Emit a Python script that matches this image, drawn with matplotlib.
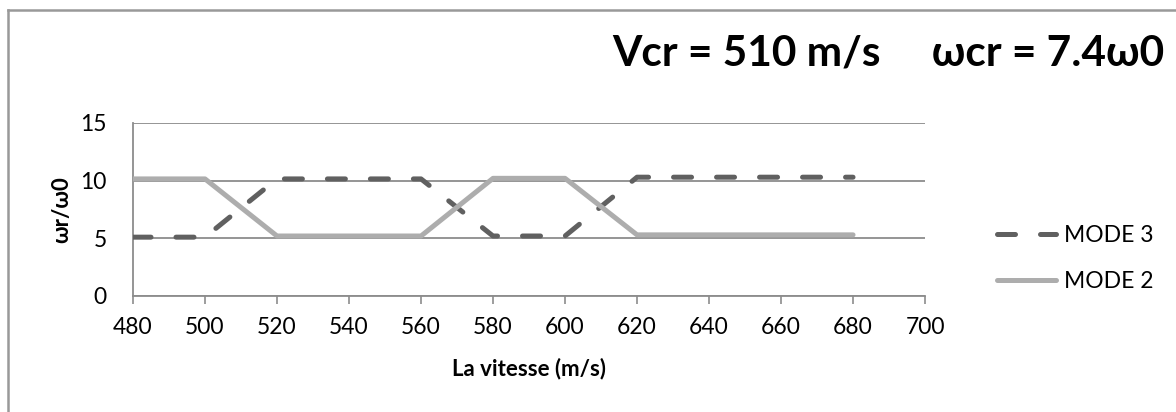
import numpy as np
import matplotlib.pyplot as plt
from matplotlib.lines import Line2D

plt.rcParams['font.family'] = ['Lato', 'DejaVu Sans']

# donnees
vitesse = [480, 500, 520, 540, 560, 580, 600, 620, 640, 660, 680]
mode3 = [5.1, 5.1, 10.15, 10.15, 10.15, 5.2, 5.2, 10.3, 10.3, 10.3, 10.3]
mode2 = [10.15, 10.15, 5.2, 5.2, 5.2, 10.2, 10.2, 5.3, 5.3, 5.3, 5.3]
xticks = [480, 500, 520, 540, 560, 580, 600, 620, 640, 660, 680, 700]
yticks = [0, 5, 10, 15]

fig = plt.figure(figsize=(11.76, 4.12), dpi=100)
ax = fig.add_axes([0.1131, 0.2816, 0.6735, 0.4199])

gris = '#8c8c8c'
ax.plot(vitesse, mode3, color='#606060', lw=3.6, linestyle=(0, (3.6, 5.0)),
        dash_capstyle='round', solid_capstyle='round', label='MODE 3', zorder=3)
ax.plot(vitesse, mode2, color='#adadad', lw=3.6, solid_capstyle='round',
        label='MODE 2', zorder=3)

ax.set_xlim(480, 700)
ax.set_ylim(0, 15)
ax.set_xticks(xticks)
ax.set_yticks(yticks)
ax.tick_params(axis='x', length=6, width=1.2, color=gris, labelsize=16.5, pad=9)
ax.tick_params(axis='y', length=0, labelsize=16.5, pad=19)
ax.yaxis.grid(True, color=gris, lw=1.3)
ax.set_axisbelow(True)
for s in ['top', 'right']:
    ax.spines[s].set_visible(False)
for s in ['left', 'bottom']:
    ax.spines[s].set_color(gris)
    ax.spines[s].set_linewidth(1.3)

ax.set_xlabel('La vitesse (m/s)', fontsize=16, fontweight='bold', labelpad=14)
ax.set_ylabel('ωr/ω0', fontsize=16, fontweight='bold', labelpad=6)

h = [Line2D([], [], color='#606060', lw=3.6, linestyle=(0, (3.6, 5.0)), dash_capstyle='round'),
     Line2D([], [], color='#adadad', lw=3.6, solid_capstyle='round')]
fig.legend(h, ['MODE 3', 'MODE 2'], loc='center left', bbox_to_anchor=(0.83, 0.372),
           frameon=False, fontsize=16.5, handlelength=2.6, handletextpad=0.35,
           labelspacing=1.1)

fig.text(0.99, 1 - 65 / 412, 'Vcr = 510 m/s     ωcr = 7.4ω0', ha='right', va='baseline',
         fontsize=30.5, fontweight='bold')

# cadre du graphique (gauche et haut)
fig.add_artist(Line2D([8 / 1176, 8 / 1176], [0, 1 - 10 / 412], color='#999999', lw=1.8))
fig.add_artist(Line2D([8 / 1176, 1], [1 - 10 / 412, 1 - 10 / 412], color='#999999', lw=1.8))

plt.savefig('out.png', dpi=100)
